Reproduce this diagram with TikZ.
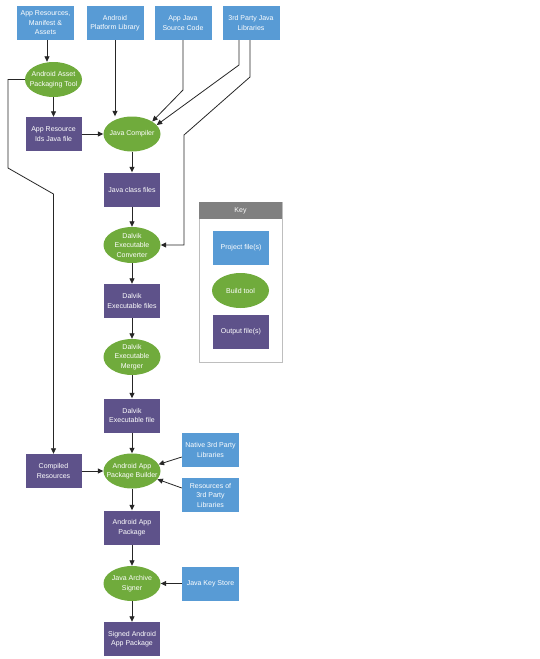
\documentclass[tikz,border=0pt]{standalone}
\usepackage{fontspec}
\setmainfont{Liberation Sans}
\usetikzlibrary{shapes.geometric,arrows.meta,calc}
\definecolor{projblue}{RGB}{88,155,213}
\definecolor{toolgreen}{RGB}{112,171,60}
\definecolor{outpurple}{RGB}{94,82,138}
\definecolor{keygray}{RGB}{128,128,128}
\definecolor{keyframe}{RGB}{190,190,190}
\tikzset{
  lbl/.style={text=white, font=\fontsize{7}{9.5}\selectfont, align=center},
  proj/.style={lbl, rectangle, fill=projblue, minimum width=57pt, minimum height=34pt, inner sep=0pt},
  outp/.style={lbl, rectangle, fill=outpurple, minimum width=56pt, minimum height=34pt, inner sep=0pt},
  tool/.style={lbl, ellipse, fill=toolgreen, minimum width=57pt, minimum height=35pt, inner xsep=-6pt, inner ysep=-4pt},
  arr/.style={draw=black!85, line width=0.8pt, -{Triangle[length=5.5pt,width=5pt]}},
  ln/.style={draw=black!85, line width=0.8pt}
}
\begin{document}
\begin{tikzpicture}[x=1pt,y=-1pt]
\useasboundingbox (0,0) rectangle (540,659);
% top row
\node[proj] (b1) at (45.5,23) {App Resources,\\Manifest \&\\Assets};
\node[proj] (b2) at (115,23) {Android\\Platform Library};
\node[proj] (b3) at (183,23) {App Java\\Source Code};
\node[proj] (b4) at (251,23) {3rd Party Java\\Libraries};
% main column
\node[tool] (aapt) at (53.5,79.5) {Android Asset\\Packaging Tool};
\node[outp] (ids) at (53.5,134) {App Resource\\Ids Java file};
\node[tool] (jc) at (132,134) {Java Compiler};
\node[outp] (jcf) at (132,189.5) {Java class files};
\node[tool, minimum height=36pt] (dec) at (132,245) {Dalvik\\Executable\\Converter};
\node[outp] (def) at (132,301) {Dalvik\\Executable files};
\node[tool, minimum height=36pt] (dem) at (132,357) {Dalvik\\Executable\\Merger};
\node[outp] (df) at (132,415.5) {Dalvik\\Executable file};
\node[outp] (cr) at (53.5,471) {Compiled\\Resources};
\node[tool] (apb) at (132,471) {Android App\\Package Builder};
\node[proj] (n3) at (210.5,450) {Native 3rd Party\\Libraries};
\node[proj] (r3) at (210.5,495) {Resources of\\3rd Party\\Libraries};
\node[outp] (apk) at (132,527.5) {Android App\\Package};
\node[tool] (jas) at (132,583.5) {Java Archive\\Signer};
\node[proj] (jks) at (210.5,583.5) {Java Key Store};
\node[outp] (sapk) at (132,639) {Signed Android\\App Package};
% key
\node[draw=keyframe, line width=0.8pt, minimum width=83pt, minimum height=160pt, inner sep=0pt] (keyframe) at (240.5,282) {};
\node[fill=keygray, lbl, minimum width=83pt, minimum height=17pt, inner sep=0pt] (keyhead) at (240.5,210.5) {Key};
\node[proj, minimum width=56pt] (kp) at (241,248) {Project file(s)};
\node[tool] (kb) at (240.5,290.5) {Build tool};
\node[outp] (ko) at (241,332) {Output file(s)};
% waypoints
\coordinate (b3k) at (183,90);
\coordinate (b4ka) at (239,65);
\coordinate (b4kb) at (250,77);
\coordinate (b4kc) at (184,135);
\coordinate (lx1) at (8,168);
\coordinate (lx2) at (53.5,194);
% connectors
\draw[arr] ([xshift=1.5pt]b1.south) -- ([xshift=1.5pt]b1.south |- aapt.north);
\draw[arr] (aapt.south) -- (ids.north);
\draw[arr] (ids.east) -- (jc.west);
\draw[arr] (b2.south) -- (b2.south |- jc.north);
\draw[arr] (b3.south) -- (b3k) -- (jc.north east);
\draw[arr] (b4.south -| b4ka) -- (b4ka) -- (jc.20);
\draw[arr] (b4.south -| b4kb) -- (b4kb) -- (b4kc) -- (b4kc |- dec.east) -- (dec.east);
\draw[arr] (jc.south) -- (jcf.north);
\draw[arr] (jcf.south) -- (dec.north);
\draw[arr] (dec.south) -- (def.north);
\draw[arr] (def.south) -- (dem.north);
\draw[arr] (dem.south) -- (df.north);
\draw[arr] (df.south) -- (apb.north);
\draw[arr] (aapt.west) -- (aapt.west -| lx1) -- (lx1) -- (lx2) -- (cr.north);
\draw[arr] (cr.east) -- (apb.west);
\draw[arr] ([yshift=-7pt]n3.west) -- (apb.14);
\draw[arr] ([yshift=7pt]r3.west) -- (apb.-18);
\draw[arr] (apb.south) -- (apk.north);
\draw[arr] (apk.south) -- (jas.north);
\draw[arr] (jks.west) -- (jas.east);
\draw[arr] (jas.south) -- (sapk.north);
\end{tikzpicture}
\end{document}
